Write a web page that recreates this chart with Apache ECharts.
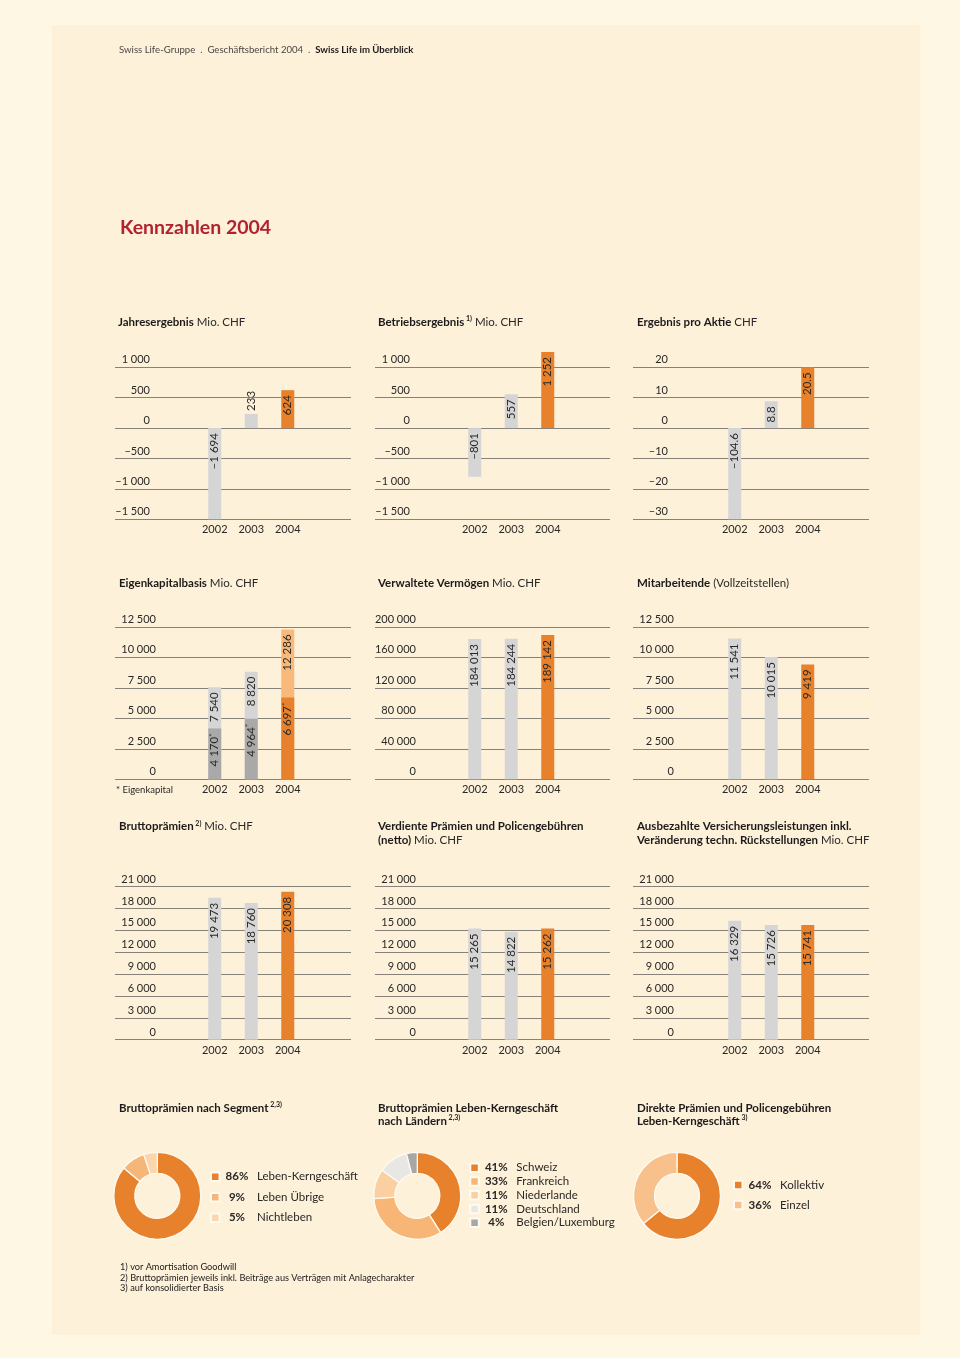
<!DOCTYPE html>
<html><head><meta charset="utf-8">
<script src="https://cdn.jsdelivr.net/npm/echarts@6/dist/echarts.min.js"></script>
<style>
html,body{margin:0;padding:0;background:#fef7e3;}
#panel{position:absolute;left:52px;top:25px;width:868px;height:1310px;background:#fdf1da;}
#chart{position:absolute;left:0;top:0;width:960px;height:1358px;}
</style>
</head><body><div id="panel"></div><div id="chart"></div>
<script>
// ---------- DATA ----------
const years = ['2002', '2003', '2004'];
const jahresergebnis = [-1694, 233, 624];
const betriebsergebnis = [-801, 557, 1252];
const ergebnisProAktie = [-104.6, 8.8, 20.5];
const eigenkapitalbasis = [7540, 8820, 12286];
const eigenkapital = [4170, 4964, 6697];
const verwalteteVermoegen = [184013, 184244, 189142];
const mitarbeitende = [11541, 10015, 9419];
const bruttopraemien = [19473, 18760, 20308];
const verdientePraemien = [15265, 14822, 15262];
const versicherungsleistungen = [16329, 15726, 15741];

const ticksErgebnis = ['–1 500', '–1 000', '–500', '0', '500', '1 000'];
const ticksAktie = ['–30', '–20', '–10', '0', '10', '20'];
const ticksKapital = ['0', '2 500', '5 000', '7 500', '10 000', '12 500'];
const ticksVermoegen = ['0', '40 000', '80 000', '120 000', '160 000', '200 000'];
const ticksPraemien = ['0', '3 000', '6 000', '9 000', '12 000', '15 000', '18 000', '21 000'];

const segmentNames = ['Leben-Kerngeschäft', 'Leben Übrige', 'Nichtleben'];
const segmentShares = [86, 9, 5];
const laenderNames = ['Schweiz', 'Frankreich', 'Niederlande', 'Deutschland', 'Belgien/Luxemburg'];
const laenderShares = [41, 33, 11, 11, 4];
const direktNames = ['Kollektiv', 'Einzel'];
const direktShares = [64, 36];

// ---------- STYLE ----------
const FONT = 'Lato, "Open Sans", "DejaVu Sans", sans-serif';
const GREY = '#d5d5d6', DARKGREY = '#a9a9aa', ORANGE = '#e8812b', LIGHTORANGE = '#f8b97a';
const barColors = [GREY, GREY, ORANGE];
const TXT = '#2a2826';
const GRIDLINE = '#86827a';

const cols = [
  {gl: 115, gw: 236, nl: 196.5},
  {gl: 375, gw: 235, nl: 456.5},
  {gl: 633, gw: 236, nl: 716.5}
];
const rows = [
  {top: 367.3, h: 152, margin: 35},
  {top: 626.8, h: 152.5, margin: 41},
  {top: 886.7, h: 153, margin: 41}
];
const NARROW_W = 109.5;

function fmt(v) {
  const neg = v < 0;
  const parts = String(Math.abs(v)).split('.');
  parts[0] = parts[0].replace(/\B(?=(\d{3})+(?!\d))/g, ' ');
  return (neg ? '–' : '') + parts.join('.');
}

const charts = [
  {row: 0, col: 0, values: jahresergebnis, ticks: ticksErgebnis, min: -1500, max: 1000, interval: 500, clip: true, outside: [1]},
  {row: 0, col: 1, values: betriebsergebnis, ticks: ticksErgebnis, min: -1500, max: 1000, interval: 500, clip: false},
  {row: 0, col: 2, values: ergebnisProAktie, ticks: ticksAktie, min: -30, max: 20, interval: 10, clip: true},
  {row: 1, col: 0, values: eigenkapitalbasis, inner: eigenkapital, ticks: ticksKapital, min: 0, max: 12500, interval: 2500, clip: false},
  {row: 1, col: 1, values: verwalteteVermoegen, ticks: ticksVermoegen, min: 0, max: 200000, interval: 40000, clip: false},
  {row: 1, col: 2, values: mitarbeitende, ticks: ticksKapital, min: 0, max: 12500, interval: 2500, clip: false},
  {row: 2, col: 0, values: bruttopraemien, ticks: ticksPraemien, min: 0, max: 21000, interval: 3000, clip: false},
  {row: 2, col: 1, values: verdientePraemien, ticks: ticksPraemien, min: 0, max: 21000, interval: 3000, clip: false},
  {row: 2, col: 2, values: versicherungsleistungen, ticks: ticksPraemien, min: 0, max: 21000, interval: 3000, clip: false}
];

const grid = [], xAxis = [], yAxis = [], series = [];
const labelBase = {
  show: true, position: 'insideTop', rotate: 90, align: 'right', verticalAlign: 'middle',
  distance: 5, fontSize: 11.5, color: TXT, fontFamily: FONT, fontWeight: 'normal'
};

charts.forEach((c, k) => {
  const col = cols[c.col], row = rows[c.row];
  const full = 2 * k, narrow = 2 * k + 1;
  grid.push({left: col.gl, width: col.gw, top: row.top, height: row.h});
  grid.push({left: col.nl, width: NARROW_W, top: row.top, height: row.h});
  xAxis.push({type: 'category', gridIndex: full, data: years, show: false});
  xAxis.push({
    type: 'category', gridIndex: narrow, data: years,
    axisLine: {show: false}, axisTick: {show: false},
    axisLabel: {margin: 5, fontSize: 11, color: TXT, fontFamily: FONT}
  });
  yAxis.push({
    type: 'value', gridIndex: full, min: c.min, max: c.max, interval: c.interval,
    axisLine: {show: false}, axisTick: {show: false},
    splitLine: {show: true, lineStyle: {color: GRIDLINE, width: 1}},
    axisLabel: {
      inside: true, margin: row.margin, align: 'right', verticalAlign: 'bottom',
      padding: [0, 0, 2, 0], lineHeight: 11, fontSize: 11, color: TXT, fontFamily: FONT,
      formatter: (v) => c.ticks[Math.round((v - c.min) / c.interval)]
    }
  });
  yAxis.push({type: 'value', gridIndex: narrow, min: c.min, max: c.max, interval: c.interval, show: false, splitLine: {show: false}});

  const outside = c.outside || [];
  series.push({
    type: 'bar', xAxisIndex: narrow, yAxisIndex: narrow, barWidth: 13, barGap: '-100%',
    clip: c.clip, silent: true,
    data: c.values.map((v, i) => ({
      value: v,
      itemStyle: {color: c.inner ? (i === 2 ? LIGHTORANGE : GREY) : barColors[i]},
      label: outside.includes(i) ? {position: 'top', align: 'left', distance: 3} : undefined
    })),
    label: Object.assign({}, labelBase, {formatter: (p) => fmt(p.value)})
  });
  if (c.inner) {
    series.push({
      type: 'bar', xAxisIndex: narrow, yAxisIndex: narrow, barWidth: 13, barGap: '-100%',
      clip: c.clip, silent: true,
      data: c.inner.map((v, i) => ({value: v, itemStyle: {color: i === 2 ? ORANGE : DARKGREY}})),
      label: Object.assign({}, labelBase, {
        formatter: (p) => '{v|' + fmt(p.value) + '}{s|*}',
        rich: {
          v: {fontSize: 11.5, color: TXT, fontFamily: FONT, lineHeight: 13},
          s: {fontSize: 8, color: TXT, fontFamily: FONT, verticalAlign: 'top', lineHeight: 6}
        }
      })
    });
  }
});

// ---------- DONUTS ----------
const pieBorder = {borderColor: '#fffaf0', borderWidth: 1.3};
const donuts = [
  {names: segmentNames, shares: segmentShares, colors: [ORANGE, '#f7b679', '#fbd5ab'], cx: 157.3, legend: {left: 210, top: 1169.7, gap: 6.5, lh: 14}},
  {names: laenderNames, shares: laenderShares, colors: [ORANGE, '#f7b676', '#fad0a3', '#e9e7e4', '#a8a7a6'], cx: 417.3, legend: {left: 469.3, top: 1160.8, gap: 0, lh: 13.75}},
  {names: direktNames, shares: direktShares, colors: [ORANGE, '#f8c08a'], cx: 677, legend: {left: 733, top: 1178, gap: 6, lh: 14}}
];
const shareByName = {};
const legend = [];
donuts.forEach((d) => {
  d.names.forEach((n, i) => { shareByName[n] = d.shares[i]; });
  series.push({
    type: 'pie', center: [d.cx, 1195.8], radius: [22.5, 43.5], startAngle: 90, clockwise: true,
    silent: true, label: {show: false}, labelLine: {show: false}, emphasis: {disabled: true},
    data: d.names.map((n, i) => ({name: n, value: d.shares[i], itemStyle: Object.assign({color: d.colors[i]}, pieBorder)}))
  });
  legend.push({
    data: d.names, orient: 'vertical', left: d.legend.left, top: d.legend.top, padding: 0,
    itemGap: d.legend.gap, itemWidth: 8.5, itemHeight: 8.5, icon: 'rect', selectedMode: false,
    formatter: (n) => '{p|' + shareByName[n] + '%}{n|' + n + '}',
    textStyle: {
      fontFamily: FONT, fontSize: 11.5, color: TXT, lineHeight: d.legend.lh,
      rich: {
        p: {fontFamily: FONT, fontSize: 11.5, fontWeight: 'bold', color: TXT, width: 25, align: 'right', lineHeight: d.legend.lh},
        n: {fontFamily: FONT, fontSize: 11.5, fontWeight: 'normal', color: TXT, padding: [0, 0, 0, 7.5], lineHeight: d.legend.lh}
      }
    }
  });
});

// ---------- TEXTS ----------
function richT(lh) {
  return {
    b: {fontFamily: FONT, fontSize: 11.5, fontWeight: 'bold', color: '#1d1b1a', lineHeight: lh},
    r: {fontFamily: FONT, fontSize: 11.5, fontWeight: 'normal', color: '#2a2826', lineHeight: lh},
    s: {fontFamily: FONT, fontSize: 7, fontWeight: 'bold', color: '#1d1b1a', verticalAlign: 'top', lineHeight: 8}
  };
}
function T(left, top, text, lh) {
  return {left: left, top: top, text: text, padding: 0, textStyle: {fontFamily: FONT, fontSize: 11.5, fontWeight: 'normal', color: TXT, lineHeight: lh, rich: richT(lh)}};
}
const title = [
  {left: 119, top: 44, padding: 0, text: '{r|Swiss Life-Gruppe  .  Geschäftsbericht 2004  .  }{b|Swiss Life im Überblick}',
    textStyle: {fontSize: 9.6, fontWeight: 'normal', lineHeight: 12, rich: {
      r: {fontFamily: FONT, fontSize: 9.6, fontWeight: 'normal', color: '#4a4744', lineHeight: 12},
      b: {fontFamily: FONT, fontSize: 9.6, fontWeight: 'bold', color: '#1d1b1a', lineHeight: 12}}}},
  {left: 120, top: 217, padding: 0, text: 'Kennzahlen 2004',
    textStyle: {fontFamily: FONT, fontSize: 19.5, fontWeight: 'bold', color: '#b1222f', lineHeight: 22}},
  T(118, 315, '{b|Jahresergebnis} {r|Mio. CHF}', 14),
  T(378, 315, '{b|Betriebsergebnis}{s| 1)} {r|Mio. CHF}', 14),
  T(637, 315, '{b|Ergebnis pro Aktie} {r|CHF}', 14),
  T(119, 576, '{b|Eigenkapitalbasis} {r|Mio. CHF}', 14),
  T(378, 576, '{b|Verwaltete Vermögen} {r|Mio. CHF}', 14),
  T(637, 576, '{b|Mitarbeitende} {r|(Vollzeitstellen)}', 14),
  T(119, 820, '{b|Bruttoprämien}{s| 2)} {r|Mio. CHF}', 13.5),
  T(378, 820, '{b|Verdiente Prämien und Policengebühren}\n{b|(netto)} {r|Mio. CHF}', 13.5),
  T(637, 820, '{b|Ausbezahlte Versicherungsleistungen inkl.}\n{b|Veränderung techn. Rückstellungen} {r|Mio. CHF}', 13.5),
  T(119, 1101.5, '{b|Bruttoprämien nach Segment}{s| 2,3)}', 13),
  T(378, 1101.5, '{b|Bruttoprämien Leben-Kerngeschäft}\n{b|nach Ländern}{s| 2,3)}', 13),
  T(637, 1101.5, '{b|Direkte Prämien und Policengebühren}\n{b|Leben-Kerngeschäft}{s| 3)}', 13),
  {left: 116, top: 784.5, padding: 0, text: '* Eigenkapital', textStyle: {fontFamily: FONT, fontSize: 9.5, fontWeight: 'normal', color: TXT, lineHeight: 11}},
  {left: 120, top: 1262, padding: 0,
    text: '1) vor Amortisation Goodwill\n2) Bruttoprämien jeweils inkl. Beiträge aus Verträgen mit Anlagecharakter\n3) auf konsolidierter Basis',
    textStyle: {fontFamily: FONT, fontSize: 9.2, fontWeight: 'normal', color: '#1d1b1a', lineHeight: 10.5}}
];

const chart = echarts.init(document.getElementById('chart'), null, {renderer: 'canvas'});
chart.setOption({
  animation: false,
  backgroundColor: 'transparent',
  textStyle: {fontFamily: FONT},
  title: title,
  legend: legend,
  grid: grid,
  xAxis: xAxis,
  yAxis: yAxis,
  series: series
});
</script>
</body></html>
